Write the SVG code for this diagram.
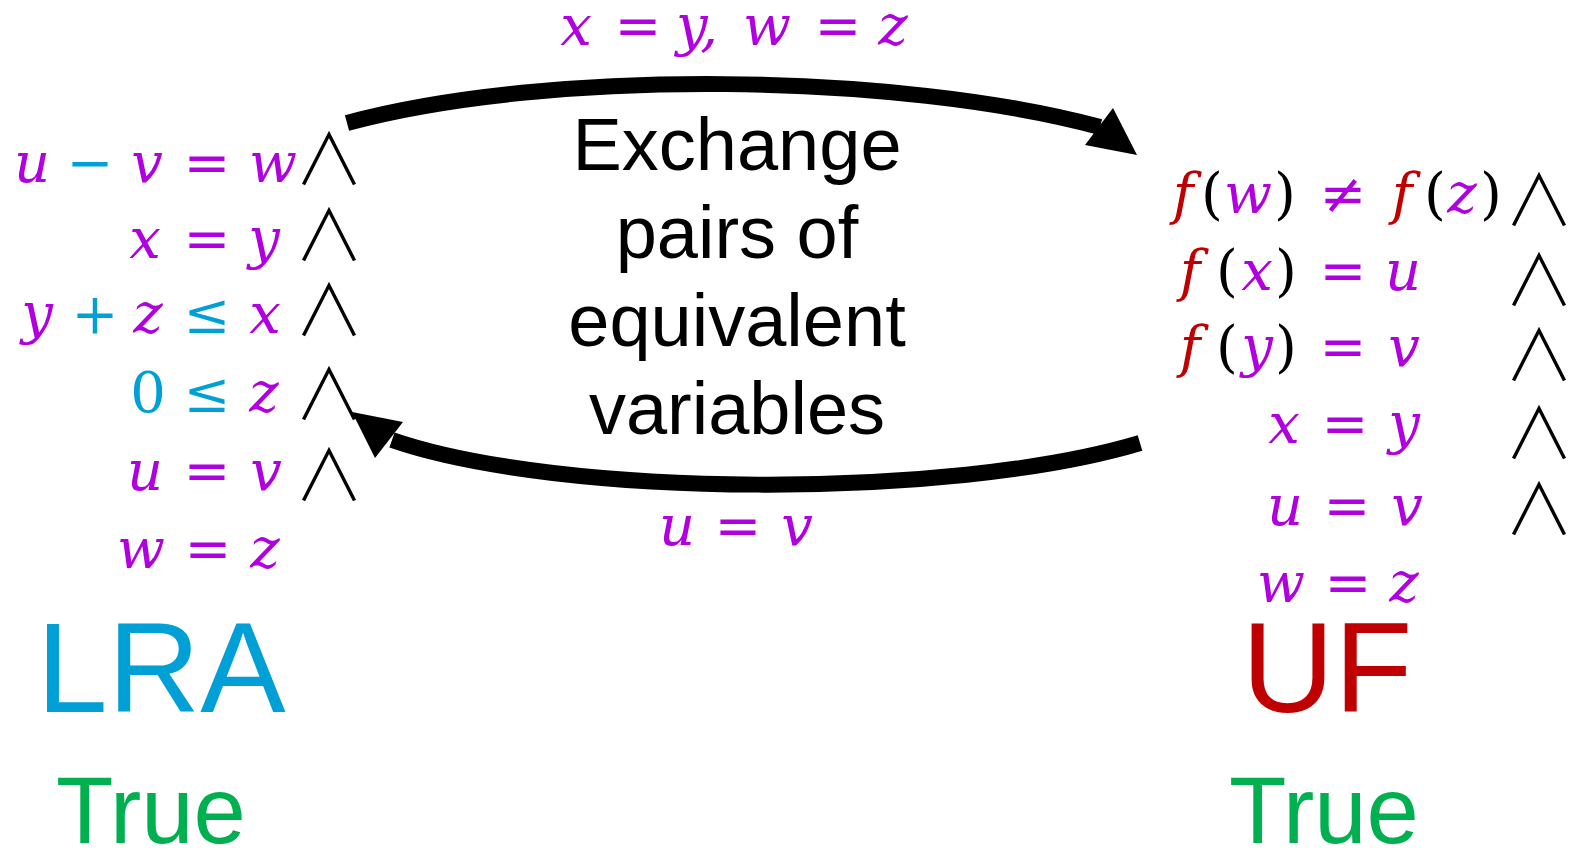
<svg xmlns="http://www.w3.org/2000/svg" width="1578" height="855" viewBox="0 0 1578 855">
<style>
text{text-anchor:middle}
.m{font-family:"DejaVu Serif",serif;font-size:56px}
.v{font-style:italic;fill:#b000e0}
.o{fill:#b000e0}
.c{fill:#00a0d6}
.f{font-style:italic;fill:#c00000}
.p{fill:#000}
.and{font-family:"Noto Sans CJK JP","DejaVu Sans",sans-serif;font-weight:300;font-size:70px;fill:#000}
.big{font-family:"Liberation Sans",Arial,sans-serif}
.shaft{fill:none;stroke:#000;stroke-width:16}
</style>
<rect width="1578" height="855" fill="#fff"/>
<g id="connectors">
<path class="shaft" d="M347,123 C550,68 900,73 1100,127"/>
<polygon points="1113,108 1137,155 1085,145"/>
<path class="shaft" d="M1140,443 C950,500 560,498 392,440"/>
<polygon points="352,412 403,422 375,458"/>
</g>
<g id="label-top">
<text class="m"><tspan class="v" x="576" y="45">x</tspan><tspan class="o" x="638" y="45">=</tspan><tspan class="v" x="697" y="45">y,</tspan><tspan class="v" x="767" y="45">w</tspan><tspan class="o" x="838" y="45">=</tspan><tspan class="v" x="893" y="45">z</tspan></text>
</g>
<g id="label-bottom">
<text class="m"><tspan class="v" x="677" y="545">u</tspan><tspan class="o" x="738" y="545">=</tspan><tspan class="v" x="797" y="545">v</tspan></text>
</g>
<g id="center-text" class="big" font-size="74" fill="#000">
<text x="737" y="170">Exchange</text>
<text x="737" y="258">pairs of</text>
<text x="737" y="346">equivalent</text>
<text x="737" y="434">variables</text>
</g>
<g id="lra-formula">
<text class="m"><tspan class="v" x="32" y="182">u</tspan><tspan class="c" x="90" y="182">−</tspan><tspan class="v" x="147" y="182">v</tspan><tspan class="o" x="207" y="182">=</tspan><tspan class="v" x="273" y="182">w</tspan></text>
<text class="m"><tspan class="v" x="145" y="258">x</tspan><tspan class="o" x="207" y="258">=</tspan><tspan class="v" x="264" y="258">y</tspan></text>
<text class="m"><tspan class="v" x="37" y="333">y</tspan><tspan class="c" x="95" y="333">+</tspan><tspan class="v" x="148" y="333">z</tspan><tspan class="c" x="207" y="333">≤</tspan><tspan class="v" x="265" y="333">x</tspan></text>
<text class="m"><tspan class="c" x="148" y="412">0</tspan><tspan class="c" x="207" y="412">≤</tspan><tspan class="v" x="264" y="412">z</tspan></text>
<text class="m"><tspan class="v" x="145" y="490">u</tspan><tspan class="o" x="207" y="490">=</tspan><tspan class="v" x="266" y="490">v</tspan></text>
<text class="m"><tspan class="v" x="141" y="568">w</tspan><tspan class="o" x="208" y="568">=</tspan><tspan class="v" x="265" y="568">z</tspan></text>
<text class="and"><tspan x="329" y="185">∧</tspan><tspan x="329" y="261">∧</tspan><tspan x="329" y="336">∧</tspan><tspan x="329" y="420">∧</tspan><tspan x="329" y="501">∧</tspan></text>
</g>
<g id="uf-formula">
<text class="m"><tspan class="f" x="1183" y="213">f</tspan><tspan class="p" x="1212" y="213">(</tspan><tspan class="v" x="1248" y="213">w</tspan><tspan class="p" x="1285" y="213">)</tspan><tspan class="o" x="1343" y="213">≠</tspan><tspan class="f" x="1402" y="213">f</tspan><tspan class="p" x="1435" y="213">(</tspan><tspan class="v" x="1462" y="213">z</tspan><tspan class="p" x="1491" y="213">)</tspan></text>
<text class="m"><tspan class="f" x="1190" y="290">f</tspan><tspan class="p" x="1227" y="290">(</tspan><tspan class="v" x="1257" y="290">x</tspan><tspan class="p" x="1286" y="290">)</tspan><tspan class="o" x="1343" y="290">=</tspan><tspan class="v" x="1403" y="290">u</tspan></text>
<text class="m"><tspan class="f" x="1190" y="366">f</tspan><tspan class="p" x="1227" y="366">(</tspan><tspan class="v" x="1257" y="366">y</tspan><tspan class="p" x="1286" y="366">)</tspan><tspan class="o" x="1343" y="366">=</tspan><tspan class="v" x="1404" y="366">v</tspan></text>
<text class="m"><tspan class="v" x="1284" y="443">x</tspan><tspan class="o" x="1345" y="443">=</tspan><tspan class="v" x="1404" y="443">y</tspan></text>
<text class="m"><tspan class="v" x="1285" y="525">u</tspan><tspan class="o" x="1347" y="525">=</tspan><tspan class="v" x="1407" y="525">v</tspan></text>
<text class="m"><tspan class="v" x="1281" y="602">w</tspan><tspan class="o" x="1348" y="602">=</tspan><tspan class="v" x="1404" y="602">z</tspan></text>
<text class="and"><tspan x="1539" y="226">∧</tspan><tspan x="1539" y="306">∧</tspan><tspan x="1539" y="381">∧</tspan><tspan x="1539" y="459">∧</tspan><tspan x="1539" y="535">∧</tspan></text>
</g>
<g id="lra"><text class="big" x="161" y="712" font-size="128" fill="#00a0d6">LRA</text></g>
<g id="lra-result"><text class="big" x="151" y="843" font-size="94" fill="#00b050">True</text></g>
<g id="uf"><text class="big" x="1327" y="712" font-size="128" fill="#c00000">UF</text></g>
<g id="uf-result"><text class="big" x="1324" y="843" font-size="94" fill="#00b050">True</text></g>
</svg>
